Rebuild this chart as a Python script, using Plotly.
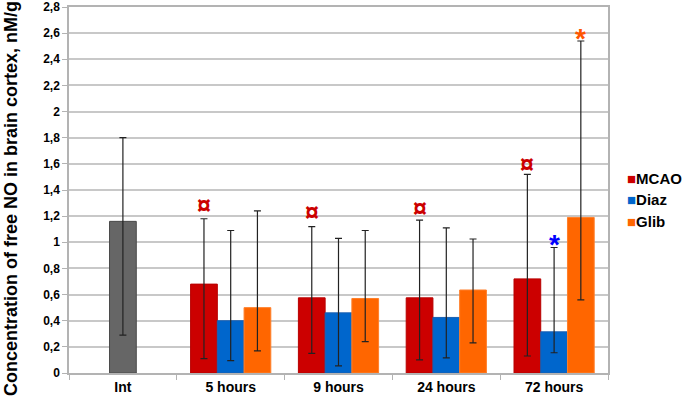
import plotly.graph_objects as go

categories = ["Int", "5 hours", "9 hours", "24 hours", "72 hours"]

int_value = [1.16]
int_err_plus = [0.64]
int_err_minus = [0.87]

mcao = [None, 0.68, 0.575, 0.575, 0.72]
mcao_hi = [None, 1.18, 1.12, 1.17, 1.52]
mcao_lo = [None, 0.11, 0.15, 0.10, 0.13]

diaz = [None, 0.40, 0.46, 0.425, 0.315]
diaz_hi = [None, 1.09, 1.03, 1.11, 0.96]
diaz_lo = [None, 0.095, 0.055, 0.115, 0.155]

glib = [None, 0.50, 0.57, 0.635, 1.19]
glib_hi = [None, 1.24, 1.09, 1.025, 2.54]
glib_lo = [None, 0.17, 0.24, 0.23, 0.56]

series_names = ["MCAO", "Diaz", "Glib"]

y_ticks = [0, 0.2, 0.4, 0.6, 0.8, 1, 1.2, 1.4, 1.6, 1.8, 2, 2.2, 2.4, 2.6, 2.8]
y_tick_labels = ["0", "0,2", "0,4", "0,6", "0,8", "1", "1,2", "1,4", "1,6", "1,8",
                 "2", "2,2", "2,4", "2,6", "2,8"]

y_title = "Concentration of free NO in brain cortex, nM/g"

# significance marks: (category index, series, symbol, y)
sig_cat = [1, 2, 3, 4, 4, 4]
sig_series = ["MCAO", "MCAO", "MCAO", "MCAO", "Diaz", "Glib"]
sig_symbol = ["¤", "¤", "¤", "¤", "*", "*"]
sig_y = [1.275, 1.225, 1.255, 1.595, 1.04, 2.61]

colors = {"Int": "#666666", "MCAO": "#cc0000", "Diaz": "#0066cc", "Glib": "#ff6600"}
line_colors = {"Int": "#4a4a4a", "MCAO": "#b80000", "Diaz": "#1a5fb0", "Glib": "#ff7f2a"}
sig_colors = {"MCAO": "#cc0000", "Diaz": "#0000ff", "Glib": "#ff5500"}

W = 0.248
offsets = {"MCAO": -1.5 * W, "Diaz": -0.5 * W, "Glib": 0.5 * W}

font_family = "Liberation Sans, Arial, sans-serif"

FIG_W, FIG_H = 686, 399
ML, MR, MT, MB = 69, 78, 7, 26
PW, PH = FIG_W - ML - MR, FIG_H - MT - MB


def px_to_paper(px, py):
    return (px - ML) / PW, (FIG_H - MB - py) / PH


fig = go.Figure()

fig.add_trace(go.Bar(
    x=[categories[0]], y=int_value, name="Int", showlegend=False,
    width=W, offset=-W / 2,
    marker=dict(color=colors["Int"], line=dict(color=line_colors["Int"], width=1)),
    error_y=dict(type="data", symmetric=False, array=int_err_plus, arrayminus=int_err_minus,
                 color="#222222", thickness=1.2, width=3.5),
))


def add_series(name, vals, hi, lo):
    plus = [None if v is None else h - v for v, h in zip(vals, hi)]
    minus = [None if v is None else v - l for v, l in zip(vals, lo)]
    fig.add_trace(go.Bar(
        x=categories, y=vals, name=name, showlegend=False,
        width=W, offset=offsets[name],
        marker=dict(color=colors[name], line=dict(color=line_colors[name], width=1)),
        error_y=dict(type="data", symmetric=False, array=plus, arrayminus=minus,
                     color="#222222", thickness=1.2, width=3.5),
    ))


add_series("MCAO", mcao, mcao_hi, mcao_lo)
add_series("Diaz", diaz, diaz_hi, diaz_lo)
add_series("Glib", glib, glib_hi, glib_lo)

for c, s, sym, yv in zip(sig_cat, sig_series, sig_symbol, sig_y):
    xpos = c + offsets[s] + W / 2
    if sym == "¤":
        size, yshift = 25, 1
    else:
        size, yshift = 28, -7
    fig.add_annotation(
        x=xpos, y=yv, text=sym, showarrow=False, xref="x", yref="y",
        yshift=yshift,
        font=dict(family=font_family, size=size, color=sig_colors[s], weight="bold"),
    )

# legend drawn as text entries with coloured squares
for i, name in enumerate(series_names):
    lx, ly = px_to_paper(625, 178 + i * 21.5)
    fig.add_annotation(
        x=lx, y=ly, xref="paper", yref="paper",
        text=f'<span style="color:{colors[name]}">■</span>{name}',
        showarrow=False, xanchor="left", yanchor="middle",
        font=dict(family=font_family, size=15, color="#000000", weight="bold"),
    )

# y-axis title (centred on the full figure height, as in the reference)
tx, ty = px_to_paper(11, 199)
fig.add_annotation(
    x=tx, y=ty, xref="paper", yref="paper", text=y_title, textangle=-90,
    showarrow=False, xanchor="center", yanchor="middle",
    font=dict(family=font_family, size=18, color="#000000", weight="bold"),
)

fig.update_layout(
    width=FIG_W, height=FIG_H,
    margin=dict(l=ML, r=MR, t=MT, b=MB, pad=0),
    paper_bgcolor="white", plot_bgcolor="white",
    barmode="overlay",
    font=dict(family=font_family, color="#000000", weight="bold"),
    showlegend=False,
)

fig.update_xaxes(
    type="category", categoryorder="array", categoryarray=categories,
    range=[-0.5, 4.5], automargin=False,
    showline=True, linecolor="#b3b3b3", linewidth=1.5, mirror=True,
    ticks="outside", tickson="boundaries", ticklen=5, tickcolor="#b3b3b3",
    showgrid=False, tickfont=dict(size=14, weight="bold"),
)
fig.update_yaxes(
    range=[0, 2.8], tickvals=y_ticks, ticktext=y_tick_labels, automargin=False,
    showline=True, linecolor="#b3b3b3", linewidth=1.5, mirror=True,
    ticks="outside", ticklen=5, tickcolor="#b3b3b3",
    showgrid=True, gridcolor="#c8c8c8", gridwidth=1.5,
    tickfont=dict(size=12, weight="bold"),
    zeroline=False,
)

fig.write_html(
    "out.html",
    config={"displayModeBar": False},
    post_script="document.body.style.margin='0';document.body.style.padding='0';"
                "document.documentElement.style.overflow='hidden';",
)
